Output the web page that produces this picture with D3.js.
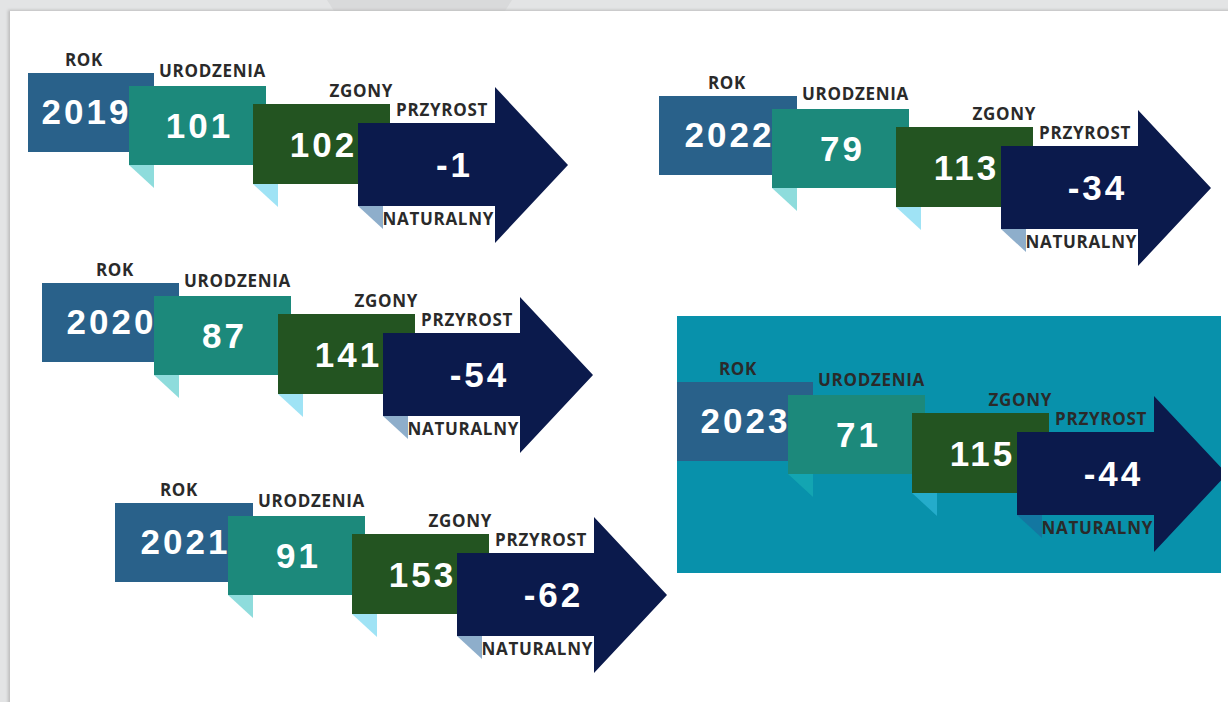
<!DOCTYPE html>
<html>
<head>
<meta charset="utf-8">
<script src="https://cdn.jsdelivr.net/npm/d3@7"></script>
<style>
  body { margin: 0; background: #e3e4e5; }
  svg { display: block; }
</style>
</head>
<body>
<script>
const years = ['2019', '2020', '2021', '2022', '2023'];
const births = [101, 87, 91, 79, 71];
const deaths = [102, 141, 153, 113, 115];
const growth = [-1, -54, -62, -34, -44];
const labels = ['ROK', 'URODZENIA', 'ZGONY', 'PRZYROST', 'NATURALNY'];
const highlightYear = '2023';

// where each year block sits on the page (x, y of the ROK box, its width, ROK label offset)
const layout = [
    {x: 28, y: 73, w: 126, rokDx: 56},
    {x: 42, y: 283, w: 137, rokDx: 73},
    {x: 115, y: 503, w: 138, rokDx: 64},
    {x: 659, y: 96, w: 138, rokDx: 68},
    {x: 677, y: 382, w: 136, rokDx: 61}
];

const colors = {
    rok: '#29618a',
    births: '#1c897b',
    deaths: '#235421',
    growth: '#0b1a4c',
    foldBirths: '#1db9b9',
    foldDeaths: '#3fc7eb',
    foldGrowth: '#1d5d97',
    label: '#2a2a2a',
    panel: '#0891ab'
};

const W = 1228, H = 702;
const labelFont = "'Open Sans', 'DejaVu Sans', sans-serif";
const numberFont = "'Liberation Sans', Arial, sans-serif";

const svg = d3.select('body').append('svg')
    .attr('width', W)
    .attr('height', H);

const pos = d3.scaleOrdinal().domain(years).range(layout);

const defs = svg.append('defs');
defs.append('filter')
    .attr('id', 'cardShadow')
    .attr('x', -0.05).attr('y', -0.05).attr('width', 1.1).attr('height', 1.1)
    .append('feGaussianBlur')
    .attr('stdDeviation', 1.6);

const hl = pos(highlightYear);
const panel = {x: 677, y: 316, w: 544, h: 257};
defs.append('clipPath')
    .attr('id', 'panelClip')
    .append('rect')
    .attr('x', panel.x - hl.x)
    .attr('y', panel.y - hl.y)
    .attr('width', panel.w)
    .attr('height', panel.h);

// page background
svg.append('rect')
    .attr('width', W).attr('height', H)
    .attr('fill', '#e3e4e5');
svg.append('path')
    .attr('d', 'M327,0 H512 L505,11 H334 Z')
    .attr('fill', '#d9dadb');
svg.append('rect')
    .attr('x', 8).attr('y', 10)
    .attr('width', W).attr('height', H)
    .attr('fill', '#bdbdbd')
    .attr('filter', 'url(#cardShadow)');
svg.append('rect')
    .attr('x', 10).attr('y', 11)
    .attr('width', W).attr('height', H)
    .attr('fill', '#ffffff');

svg.append('rect')
    .attr('x', panel.x).attr('y', panel.y)
    .attr('width', panel.w).attr('height', panel.h)
    .attr('fill', colors.panel);

const groups = svg.selectAll('g.block')
    .data(years.map((year, i) => ({year, births: births[i], deaths: deaths[i], growth: growth[i]})))
    .enter()
    .append('g')
    .attr('class', 'block')
    .attr('transform', d => `translate(${pos(d.year).x},${pos(d.year).y})`)
    .attr('clip-path', d => d.year === highlightYear ? 'url(#panelClip)' : null);

const addLabel = (g, text, x, y, anchor) => {
    g.append('text')
        .attr('x', x)
        .attr('y', y)
        .attr('text-anchor', anchor)
        .attr('font-family', labelFont)
        .attr('font-weight', 700)
        .attr('font-size', 17)
        .attr('letter-spacing', 0.7)
        .attr('fill', colors.label)
        .text(text);
};

const addNumber = (g, text, x, y) => {
    g.append('text')
        .attr('x', x + 1.5)
        .attr('y', y)
        .attr('text-anchor', 'middle')
        .attr('font-family', numberFont)
        .attr('font-weight', 700)
        .attr('font-size', 35)
        .attr('letter-spacing', 3)
        .attr('fill', '#ffffff')
        .text(text);
};

const fold = (g, x, y, color) => {
    g.append('path')
        .attr('d', `M${x},${y} L${x + 25},${y} L${x + 25},${y + 23} Z`)
        .attr('fill', color)
        .attr('fill-opacity', 0.5);
};

groups.each(function(d) {
    const g = d3.select(this);
    const p = pos(d.year);
    const u = p.w - 25;

    // ROK
    g.append('rect')
        .attr('width', p.w).attr('height', 79)
        .attr('fill', colors.rok);
    addLabel(g, labels[0], p.rokDx, -7, 'middle');
    addNumber(g, d.year, p.w - 69, 51);

    // URODZENIA
    fold(g, u, 92, colors.foldBirths);
    g.append('rect')
        .attr('x', u).attr('y', 13)
        .attr('width', 137).attr('height', 79)
        .attr('fill', colors.births);
    addLabel(g, labels[1], u + 137, 4, 'end');
    addNumber(g, d.births, u + 69, 65);

    // ZGONY
    fold(g, u + 124, 111, colors.foldDeaths);
    g.append('rect')
        .attr('x', u + 124).attr('y', 31)
        .attr('width', 137).attr('height', 80)
        .attr('fill', colors.deaths);
    addLabel(g, labels[2], u + 264, 24, 'end');
    addNumber(g, d.deaths, u + 193, 84);

    // PRZYROST NATURALNY
    fold(g, u + 229, 133, colors.foldGrowth);
    g.append('path')
        .attr('d', `M${u + 229},50 H${u + 366} V14 L${u + 439},92 L${u + 366},170 V133 H${u + 229} Z`)
        .attr('fill', colors.growth);
    addLabel(g, labels[3], u + 359, 43, 'end');
    addLabel(g, labels[4], u + 365, 152, 'end');
    addNumber(g, String(d.growth), u + 324, 104);
});
</script>
</body>
</html>
